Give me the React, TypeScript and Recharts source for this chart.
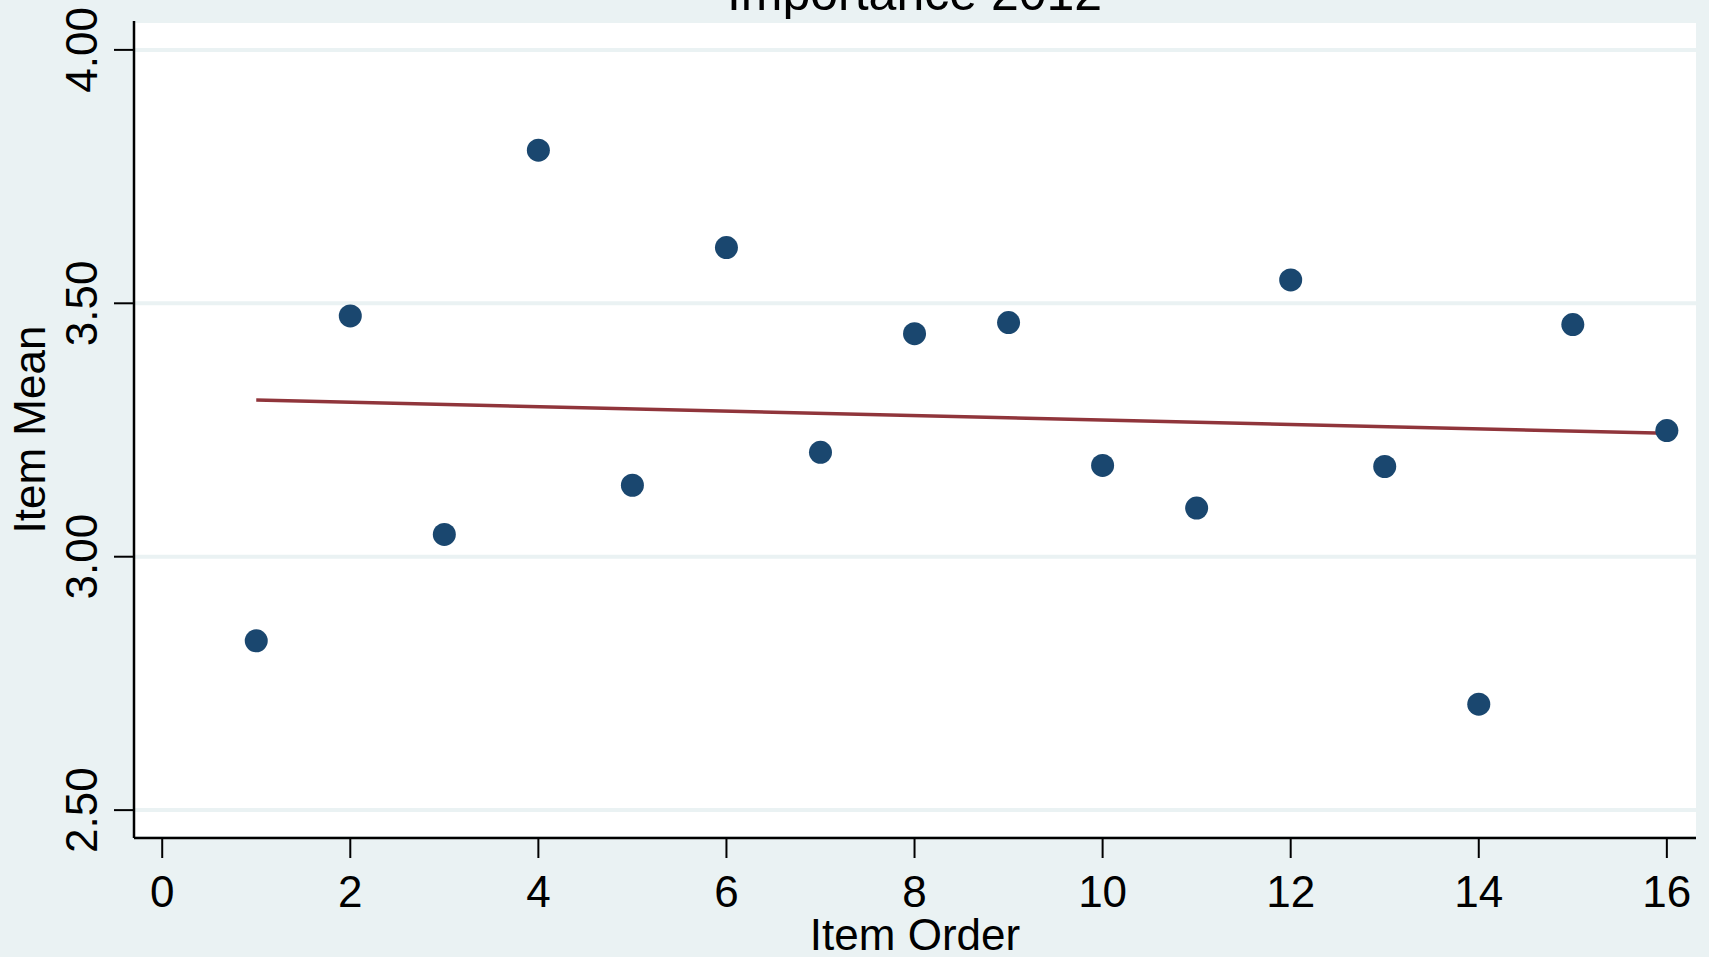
import React from 'react';
import { ComposedChart, Scatter, Line, XAxis, YAxis, CartesianGrid } from 'recharts';

// item order and mean
const itemOrder = [1, 2, 3, 4, 5, 6, 7, 8, 9, 10, 11, 12, 13, 14, 15, 16];
const itemMean = [2.834, 3.475, 3.044, 3.802, 3.141, 3.61, 3.206, 3.44, 3.462, 3.18, 3.096, 3.546, 3.178, 2.709, 3.458, 3.249];

// fitted line, value at first and last item
const fitOrder = [1, 16];
const fitMean = [3.309, 3.2435];

const xTicks = [0, 2, 4, 6, 8, 10, 12, 14, 16];
const yTicks = [2.5, 3.0, 3.5, 4.0];

const BG = '#EAF2F3';
const NAVY = '#1A476F';
const MAROON = '#90353B';
const FONT = '"Liberation Sans", Arial, sans-serif';

const chartData = itemOrder.map((x, i) => {
  const k = fitOrder.indexOf(x);
  return { x, y: itemMean[i], fit: k >= 0 ? fitMean[k] : null };
});

const XTick = (props: any) => {
  const { x, payload } = props;
  return (
    <text x={x} y={907} textAnchor="middle" fontSize={44} fontFamily={FONT} fill="#000">
      {payload.value}
    </text>
  );
};

const YTick = (props: any) => {
  const { y, payload } = props;
  return (
    <text x={97} y={y} textAnchor="middle" fontSize={44} fontFamily={FONT} fill="#000"
      transform={`rotate(-90 97 ${y})`}>
      {Number(payload.value).toFixed(2)}
    </text>
  );
};

const Dot = (props: any) => <circle cx={props.cx} cy={props.cy} r={11.5} fill={NAVY} />;

export default function App() {
  return (
    <div style={{ position: 'absolute', left: 0, top: 0, width: 1709, height: 957, background: BG, overflow: 'hidden' }}>
      <div style={{ position: 'absolute', left: 0, width: 1829, top: -32, textAlign: 'center', fontFamily: FONT, fontSize: 50, lineHeight: '50px', color: '#000' }}>
        Importance 2012
      </div>
      <ComposedChart width={1709} height={957} data={chartData} margin={{ top: 21, right: 13, bottom: 0, left: 0 }}>
        <CartesianGrid vertical={false} fill="#fff" stroke={BG} strokeWidth={4} />
        <XAxis
          type="number"
          dataKey="x"
          domain={[-0.3, 16.31]}
          ticks={xTicks}
          height={119}
          tickSize={20}
          tick={<XTick />}
          axisLine={{ stroke: '#000', strokeWidth: 2.5 }}
          tickLine={{ stroke: '#000', strokeWidth: 2 }}
          label={{
            content: (p: any) => {
              const vb = p.viewBox;
              return (
                <text x={vb.x + vb.width / 2} y={950} textAnchor="middle" fontSize={44} fontFamily={FONT} fill="#000">
                  Item Order
                </text>
              );
            },
          }}
        />
        <YAxis
          type="number"
          domain={[2.445, 4.057]}
          ticks={yTicks}
          width={134}
          tickSize={20}
          tick={<YTick />}
          axisLine={{ stroke: '#000', strokeWidth: 2.5 }}
          tickLine={{ stroke: '#000', strokeWidth: 2 }}
          label={{
            content: (p: any) => {
              const vb = p.viewBox;
              const cy = vb.y + vb.height / 2;
              return (
                <text x={45} y={cy} textAnchor="middle" fontSize={44} fontFamily={FONT} fill="#000"
                  transform={`rotate(-90 45 ${cy})`}>
                  Item Mean
                </text>
              );
            },
          }}
        />
        <Scatter dataKey="y" fill={NAVY} shape={<Dot />} isAnimationActive={false} />
        <Line dataKey="fit" stroke={MAROON} strokeWidth={3.5} dot={false} connectNulls isAnimationActive={false} />
      </ComposedChart>
    </div>
  );
}
